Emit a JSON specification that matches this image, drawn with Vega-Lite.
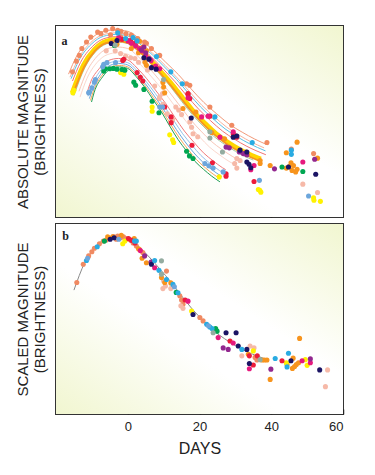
{
"$schema": "https://vega.github.io/schema/vega-lite/v6.json",
"padding": {"left": 14, "top": 25, "right": 5, "bottom": 5},
"spacing": 4,
"config": {
  "view": {"stroke": "#333333", "strokeWidth": 2},
  "font": "Liberation Sans",
  "axis": {"domain": false, "grid": false, "tickColor": "#222222", "tickWidth": 1.5, "tickSize": -5, "titleFont": "Liberation Sans", "titleFontWeight": "normal", "titleFontSize": 15, "titleColor": "#222222", "labelFont": "Liberation Sans", "labelFontSize": 13, "labelColor": "#222222", "titleLineHeight": 17}
},
"datasets": {
"curvesA": [
{"c":"c1","t":-16.5,"m":-18.74},{"c":"c1","t":-14.2,"m":-19.22},{"c":"c1","t":-10.6,"m":-19.64},{"c":"c1","t":-7.1,"m":-19.85},{"c":"c1","t":-3.5,"m":-19.90},{"c":"c1","t":0,"m":-19.86},{"c":"c1","t":3.5,"m":-19.65},{"c":"c1","t":7.1,"m":-19.37},{"c":"c1","t":10.6,"m":-19.05},{"c":"c1","t":14.2,"m":-18.72},{"c":"c1","t":17.7,"m":-18.35},{"c":"c1","t":21.2,"m":-18.00},{"c":"c1","t":24.8,"m":-17.70},{"c":"c1","t":28.3,"m":-17.43},{"c":"c1","t":31.9,"m":-17.22},{"c":"c1","t":35.4,"m":-17.04},{"c":"c1","t":38.9,"m":-16.89},
{"c":"c2","t":-16.1,"m":-18.66},{"c":"c2","t":-13.8,"m":-19.14},{"c":"c2","t":-10.4,"m":-19.56},{"c":"c2","t":-6.9,"m":-19.77},{"c":"c2","t":-3.5,"m":-19.82},{"c":"c2","t":0,"m":-19.78},{"c":"c2","t":3.5,"m":-19.57},{"c":"c2","t":6.9,"m":-19.29},{"c":"c2","t":10.4,"m":-18.97},{"c":"c2","t":13.8,"m":-18.64},{"c":"c2","t":17.3,"m":-18.27},{"c":"c2","t":20.7,"m":-17.92},{"c":"c2","t":24.2,"m":-17.62},{"c":"c2","t":27.6,"m":-17.35},{"c":"c2","t":31.1,"m":-17.14},{"c":"c2","t":34.5,"m":-16.96},{"c":"c2","t":38.0,"m":-16.81},
{"c":"c3","t":-15.8,"m":-18.62},{"c":"c3","t":-13.6,"m":-19.10},{"c":"c3","t":-10.2,"m":-19.52},{"c":"c3","t":-6.8,"m":-19.73},{"c":"c3","t":-3.4,"m":-19.78},{"c":"c3","t":0,"m":-19.74},{"c":"c3","t":3.4,"m":-19.53},{"c":"c3","t":6.8,"m":-19.25},{"c":"c3","t":10.2,"m":-18.93},{"c":"c3","t":13.6,"m":-18.60},{"c":"c3","t":17.0,"m":-18.23},{"c":"c3","t":20.3,"m":-17.88},{"c":"c3","t":23.7,"m":-17.58},{"c":"c3","t":27.1,"m":-17.31},{"c":"c3","t":30.5,"m":-17.10},{"c":"c3","t":33.9,"m":-16.92},{"c":"c3","t":38.4,"m":-16.73},
{"c":"c4","t":-15.4,"m":-18.56},{"c":"c4","t":-13.2,"m":-19.04},{"c":"c4","t":-9.9,"m":-19.46},{"c":"c4","t":-6.6,"m":-19.67},{"c":"c4","t":-3.3,"m":-19.72},{"c":"c4","t":0,"m":-19.68},{"c":"c4","t":3.3,"m":-19.47},{"c":"c4","t":6.6,"m":-19.19},{"c":"c4","t":9.9,"m":-18.87},{"c":"c4","t":13.2,"m":-18.54},{"c":"c4","t":16.5,"m":-18.17},{"c":"c4","t":19.8,"m":-17.82},{"c":"c4","t":23.1,"m":-17.52},{"c":"c4","t":26.4,"m":-17.25},{"c":"c4","t":29.7,"m":-17.04},{"c":"c4","t":33.0,"m":-16.86},{"c":"c4","t":38.5,"m":-16.63},
{"c":"c5","t":-15.5,"m":-18.25},{"c":"c5","t":-12.4,"m":-18.97},{"c":"c5","t":-9.3,"m":-19.39},{"c":"c5","t":-6.2,"m":-19.60},{"c":"c5","t":-3.1,"m":-19.65},{"c":"c5","t":0,"m":-19.61},{"c":"c5","t":3.1,"m":-19.40},{"c":"c5","t":6.2,"m":-19.12},{"c":"c5","t":9.3,"m":-18.80},{"c":"c5","t":12.4,"m":-18.47},{"c":"c5","t":15.5,"m":-18.10},{"c":"c5","t":18.5,"m":-17.75},{"c":"c5","t":21.6,"m":-17.45},{"c":"c5","t":24.7,"m":-17.18},{"c":"c5","t":27.8,"m":-16.97},{"c":"c5","t":30.9,"m":-16.79},{"c":"c5","t":34.0,"m":-16.64},{"c":"c5","t":37.1,"m":-16.52},
{"c":"c6","t":-15.3,"m":-18.20},{"c":"c6","t":-12.2,"m":-18.92},{"c":"c6","t":-9.2,"m":-19.34},{"c":"c6","t":-6.1,"m":-19.55},{"c":"c6","t":-3.1,"m":-19.60},{"c":"c6","t":0,"m":-19.56},{"c":"c6","t":3.1,"m":-19.35},{"c":"c6","t":6.1,"m":-19.07},{"c":"c6","t":9.2,"m":-18.75},{"c":"c6","t":12.2,"m":-18.42},{"c":"c6","t":15.3,"m":-18.05},{"c":"c6","t":18.4,"m":-17.70},{"c":"c6","t":21.4,"m":-17.40},{"c":"c6","t":24.5,"m":-17.13},{"c":"c6","t":27.5,"m":-16.92},{"c":"c6","t":30.6,"m":-16.74},{"c":"c6","t":33.7,"m":-16.59},{"c":"c6","t":36.7,"m":-16.47},
{"c":"c7","t":-15,"m":-18.18},{"c":"c7","t":-12,"m":-18.90},{"c":"c7","t":-9,"m":-19.32},{"c":"c7","t":-6,"m":-19.53},{"c":"c7","t":-3,"m":-19.58},{"c":"c7","t":0,"m":-19.54},{"c":"c7","t":3,"m":-19.33},{"c":"c7","t":6,"m":-19.05},{"c":"c7","t":9,"m":-18.73},{"c":"c7","t":12,"m":-18.40},{"c":"c7","t":15,"m":-18.03},{"c":"c7","t":18,"m":-17.68},{"c":"c7","t":21,"m":-17.38},{"c":"c7","t":24,"m":-17.11},{"c":"c7","t":27,"m":-16.90},{"c":"c7","t":30,"m":-16.72},{"c":"c7","t":33,"m":-16.57},{"c":"c7","t":35,"m":-16.49},
{"c":"c8","t":-13.6,"m":-18.29},{"c":"c8","t":-11.6,"m":-18.77},{"c":"c8","t":-8.7,"m":-19.19},{"c":"c8","t":-5.8,"m":-19.40},{"c":"c8","t":-2.9,"m":-19.45},{"c":"c8","t":0,"m":-19.41},{"c":"c8","t":2.9,"m":-19.20},{"c":"c8","t":5.8,"m":-18.92},{"c":"c8","t":8.7,"m":-18.60},{"c":"c8","t":11.6,"m":-18.27},{"c":"c8","t":14.6,"m":-17.90},{"c":"c8","t":17.5,"m":-17.55},{"c":"c8","t":20.4,"m":-17.25},{"c":"c8","t":23.3,"m":-16.98},{"c":"c8","t":26.2,"m":-16.77},{"c":"c8","t":29.1,"m":-16.59},{"c":"c8","t":32.0,"m":-16.44},
{"c":"c9","t":-13.3,"m":-18.14},{"c":"c9","t":-11.4,"m":-18.62},{"c":"c9","t":-8.6,"m":-19.04},{"c":"c9","t":-5.7,"m":-19.25},{"c":"c9","t":-2.9,"m":-19.30},{"c":"c9","t":0,"m":-19.26},{"c":"c9","t":2.9,"m":-19.05},{"c":"c9","t":5.7,"m":-18.77},{"c":"c9","t":8.6,"m":-18.45},{"c":"c9","t":11.4,"m":-18.12},{"c":"c9","t":14.3,"m":-17.75},{"c":"c9","t":17.1,"m":-17.40},{"c":"c9","t":20.0,"m":-17.10},{"c":"c9","t":22.8,"m":-16.83},{"c":"c9","t":25.7,"m":-16.62},{"c":"c9","t":28.5,"m":-16.44},{"c":"c9","t":29.5,"m":-16.39},
{"c":"c10","t":-11.4,"m":-18.23},{"c":"c10","t":-10.6,"m":-18.47},{"c":"c10","t":-7.9,"m":-18.89},{"c":"c10","t":-5.3,"m":-19.10},{"c":"c10","t":-2.6,"m":-19.15},{"c":"c10","t":0,"m":-19.11},{"c":"c10","t":2.6,"m":-18.90},{"c":"c10","t":5.3,"m":-18.62},{"c":"c10","t":7.9,"m":-18.30},{"c":"c10","t":10.6,"m":-17.97},{"c":"c10","t":13.2,"m":-17.60},{"c":"c10","t":15.8,"m":-17.25},{"c":"c10","t":18.5,"m":-16.95},{"c":"c10","t":21.1,"m":-16.68},{"c":"c10","t":23.8,"m":-16.47},{"c":"c10","t":26.4,"m":-16.29},{"c":"c10","t":27.3,"m":-16.24},
{"c":"c11","t":-11.1,"m":-18.16},{"c":"c11","t":-10.2,"m":-18.40},{"c":"c11","t":-7.7,"m":-18.82},{"c":"c11","t":-5.1,"m":-19.03},{"c":"c11","t":-2.6,"m":-19.08},{"c":"c11","t":0,"m":-19.04},{"c":"c11","t":2.6,"m":-18.83},{"c":"c11","t":5.1,"m":-18.55},{"c":"c11","t":7.7,"m":-18.23},{"c":"c11","t":10.2,"m":-17.90},{"c":"c11","t":12.8,"m":-17.53},{"c":"c11","t":15.3,"m":-17.18},{"c":"c11","t":17.9,"m":-16.88},{"c":"c11","t":20.4,"m":-16.61},{"c":"c11","t":23.0,"m":-16.40},{"c":"c11","t":25.5,"m":-16.22},{"c":"c11","t":26.4,"m":-16.17},
{"c":"c12","t":-10.7,"m":-18.10},{"c":"c12","t":-9.8,"m":-18.34},{"c":"c12","t":-7.4,"m":-18.76},{"c":"c12","t":-4.9,"m":-18.97},{"c":"c12","t":-2.5,"m":-19.02},{"c":"c12","t":0,"m":-18.98},{"c":"c12","t":2.5,"m":-18.77},{"c":"c12","t":4.9,"m":-18.49},{"c":"c12","t":7.4,"m":-18.17},{"c":"c12","t":9.8,"m":-17.84},{"c":"c12","t":12.3,"m":-17.47},{"c":"c12","t":14.8,"m":-17.12},{"c":"c12","t":17.2,"m":-16.82},{"c":"c12","t":19.7,"m":-16.55},{"c":"c12","t":22.1,"m":-16.34},{"c":"c12","t":24.6,"m":-16.16},{"c":"c12","t":26.2,"m":-16.06},
{"c":"c13","t":-10.4,"m":-18.05},{"c":"c13","t":-9.6,"m":-18.29},{"c":"c13","t":-7.2,"m":-18.71},{"c":"c13","t":-4.8,"m":-18.92},{"c":"c13","t":-2.4,"m":-18.97},{"c":"c13","t":0,"m":-18.93},{"c":"c13","t":2.4,"m":-18.72},{"c":"c13","t":4.8,"m":-18.44},{"c":"c13","t":7.2,"m":-18.12},{"c":"c13","t":9.6,"m":-17.79},{"c":"c13","t":12.0,"m":-17.42},{"c":"c13","t":14.4,"m":-17.07},{"c":"c13","t":16.8,"m":-16.77},{"c":"c13","t":19.2,"m":-16.50},{"c":"c13","t":21.6,"m":-16.29},{"c":"c13","t":24.0,"m":-16.11},{"c":"c13","t":25.6,"m":-16.01},
{"c":"c14","t":-10.1,"m":-18.01},{"c":"c14","t":-9.4,"m":-18.25},{"c":"c14","t":-7.0,"m":-18.67},{"c":"c14","t":-4.7,"m":-18.88},{"c":"c14","t":-2.3,"m":-18.93},{"c":"c14","t":0,"m":-18.89},{"c":"c14","t":2.3,"m":-18.68},{"c":"c14","t":4.7,"m":-18.40},{"c":"c14","t":7.0,"m":-18.08},{"c":"c14","t":9.4,"m":-17.75},{"c":"c14","t":11.7,"m":-17.38},{"c":"c14","t":14.0,"m":-17.03},{"c":"c14","t":16.4,"m":-16.73},{"c":"c14","t":18.7,"m":-16.46},{"c":"c14","t":21.1,"m":-16.25},{"c":"c14","t":23.4,"m":-16.07},{"c":"c14","t":25.7,"m":-15.92}
],
"ptsA": [
{"g":"S","t":-15.4,"m":-18.80},{"g":"S","t":-14.3,"m":-19.08},{"g":"S","t":-13.5,"m":-19.23},{"g":"S","t":-12.8,"m":-19.41},{"g":"S","t":-11.5,"m":-19.58},{"g":"S","t":-10.3,"m":-19.71},{"g":"S","t":-8.4,"m":-19.84},{"g":"S","t":-7.5,"m":-19.80},{"g":"S","t":-6.1,"m":-19.89},{"g":"S","t":-4.8,"m":-19.77},{"g":"S","t":-4.2,"m":-19.93},{"g":"S","t":-2.8,"m":-19.89},{"g":"S","t":-2.0,"m":-19.72},{"g":"S","t":-1.9,"m":-19.86},{"g":"S","t":-0.5,"m":-19.80},{"g":"S","t":1.0,"m":-19.76},{"g":"S","t":2.4,"m":-19.65},{"g":"S","t":2.8,"m":-19.67},{"g":"S","t":4.7,"m":-19.58},{"g":"S","t":5.2,"m":-19.55},{"g":"S","t":6.6,"m":-19.41},{"g":"S","t":8.9,"m":-19.23},{"g":"S","t":16.4,"m":-18.49},{"g":"S","t":17.3,"m":-18.45},{"g":"S","t":22.9,"m":-17.88},{"g":"S","t":29.0,"m":-17.40},{"g":"S","t":38.8,"m":-16.95},{"g":"S","t":45.6,"m":-16.78},{"g":"S","t":51.8,"m":-16.66},
{"g":"P","t":-6.0,"m":-19.35},{"g":"P","t":-3.5,"m":-19.35},{"g":"P","t":-2.0,"m":-19.28},{"g":"P","t":-0.6,"m":-19.21},{"g":"P","t":0.8,"m":-19.17},{"g":"P","t":2.0,"m":-19.15},{"g":"P","t":3.0,"m":-19.05},{"g":"P","t":5.5,"m":-18.85},{"g":"P","t":7.5,"m":-18.43},{"g":"P","t":8.8,"m":-18.10},{"g":"P","t":8.9,"m":-18.14},{"g":"P","t":9.7,"m":-18.23},{"g":"P","t":9.8,"m":-17.95},{"g":"P","t":11.0,"m":-17.70},{"g":"P","t":12.5,"m":-17.55},{"g":"P","t":13.4,"m":-17.88},{"g":"P","t":14.2,"m":-17.80},{"g":"P","t":15.0,"m":-17.68},{"g":"P","t":17.3,"m":-17.49},{"g":"P","t":17.8,"m":-17.35},{"g":"P","t":18.2,"m":-17.18},{"g":"P","t":19.5,"m":-17.10},{"g":"P","t":29.8,"m":-16.40},{"g":"P","t":30.4,"m":-16.53},{"g":"P","t":30.4,"m":-16.28},{"g":"P","t":31.3,"m":-16.48},{"g":"P","t":48.8,"m":-15.86},{"g":"P","t":52.9,"m":-15.64},
{"g":"O","t":-4.4,"m":-19.58},{"g":"O","t":-3.0,"m":-19.52},{"g":"O","t":1.0,"m":-19.41},{"g":"O","t":3.0,"m":-19.30},{"g":"O","t":3.3,"m":-19.60},{"g":"O","t":4.2,"m":-19.45},{"g":"O","t":4.8,"m":-19.05},{"g":"O","t":5.2,"m":-19.35},{"g":"O","t":5.2,"m":-18.97},{"g":"O","t":9.8,"m":-18.52},{"g":"O","t":10.0,"m":-18.40},{"g":"O","t":10.3,"m":-18.25},{"g":"O","t":15.4,"m":-17.84},{"g":"O","t":19.0,"m":-17.75},{"g":"O","t":23.4,"m":-17.21},{"g":"O","t":27.0,"m":-17.05},{"g":"O","t":33.0,"m":-16.70},{"g":"O","t":36.9,"m":-16.40},{"g":"O","t":36.9,"m":-16.48},{"g":"O","t":39.7,"m":-16.35},{"g":"O","t":44.2,"m":-16.68},{"g":"O","t":44.2,"m":-16.28},{"g":"O","t":45.0,"m":-16.32},{"g":"O","t":45.5,"m":-16.42},{"g":"O","t":45.8,"m":-16.22},{"g":"O","t":46.2,"m":-16.35},{"g":"O","t":46.8,"m":-16.18},{"g":"O","t":47.2,"m":-16.25},{"g":"O","t":47.2,"m":-16.96},{"g":"O","t":52.9,"m":-16.54},
{"g":"Y","t":-15.3,"m":-18.25},{"g":"Y","t":-15.0,"m":-18.32},{"g":"Y","t":-2.0,"m":-18.78},{"g":"Y","t":-1.1,"m":-18.74},{"g":"Y","t":6.8,"m":-17.77},{"g":"Y","t":6.8,"m":-17.88},{"g":"Y","t":11.7,"m":-17.15},{"g":"Y","t":12.5,"m":-17.02},{"g":"Y","t":12.8,"m":-16.95},{"g":"Y","t":25.5,"m":-16.05},{"g":"Y","t":36.4,"m":-15.72},{"g":"Y","t":36.8,"m":-15.70},{"g":"Y","t":37.1,"m":-15.65},{"g":"Y","t":51.8,"m":-15.50},{"g":"Y","t":51.9,"m":-15.44},{"g":"Y","t":53.7,"m":-15.41},
{"g":"G","t":-6.7,"m":-18.82},{"g":"G","t":-6.2,"m":-18.88},{"g":"G","t":-5.0,"m":-18.88},{"g":"G","t":-4.0,"m":-18.89},{"g":"G","t":-3.7,"m":-19.49},{"g":"G","t":-3.0,"m":-18.87},{"g":"G","t":-1.6,"m":-18.86},{"g":"G","t":-0.8,"m":-18.84},{"g":"G","t":1.7,"m":-18.53},{"g":"G","t":2.2,"m":-18.45},{"g":"G","t":4.5,"m":-18.34},{"g":"G","t":6.8,"m":-18.03},{"g":"G","t":8.7,"m":-17.73},{"g":"G","t":16.4,"m":-16.72},{"g":"G","t":17.2,"m":-16.60},{"g":"G","t":18.2,"m":-16.53},{"g":"G","t":43.0,"m":-16.31},{"g":"G","t":48.8,"m":-16.19},
{"g":"R","t":-1.6,"m":-19.65},{"g":"R","t":-1.4,"m":-19.10},{"g":"R","t":-1.1,"m":-19.13},{"g":"R","t":0.8,"m":-19.62},{"g":"R","t":2.0,"m":-19.55},{"g":"R","t":2.6,"m":-18.78},{"g":"R","t":3.5,"m":-18.66},{"g":"R","t":4.2,"m":-18.56},{"g":"R","t":10.3,"m":-17.88},{"g":"R","t":12.1,"m":-17.62},{"g":"R","t":12.1,"m":-17.47},{"g":"R","t":16.8,"m":-18.23},{"g":"R","t":16.8,"m":-18.21},{"g":"R","t":17.3,"m":-18.10},{"g":"R","t":17.9,"m":-16.88},{"g":"R","t":22.9,"m":-17.64},{"g":"R","t":23.6,"m":-16.42},{"g":"R","t":27.4,"m":-16.13},{"g":"R","t":27.4,"m":-16.07},{"g":"R","t":29.4,"m":-17.18},{"g":"R","t":30.4,"m":-17.09},{"g":"R","t":35.2,"m":-15.93},
{"g":"M","t":-2.5,"m":-19.70},{"g":"M","t":0.1,"m":-19.61},{"g":"M","t":1.0,"m":-19.55},{"g":"M","t":2.2,"m":-19.48},{"g":"M","t":3.3,"m":-19.41},{"g":"M","t":4.0,"m":-19.35},{"g":"M","t":5.0,"m":-19.22},{"g":"M","t":6.5,"m":-19.10},{"g":"M","t":7.8,"m":-18.95},{"g":"M","t":8.9,"m":-18.88},{"g":"M","t":16.8,"m":-18.12},{"g":"M","t":20.6,"m":-17.62},{"g":"M","t":22.4,"m":-17.64},{"g":"M","t":25.7,"m":-17.09},{"g":"M","t":29.4,"m":-17.23},{"g":"M","t":34.3,"m":-16.24},{"g":"M","t":35.2,"m":-16.35},{"g":"M","t":48.8,"m":-16.44},
{"g":"U","t":3.8,"m":-19.37},{"g":"U","t":4.5,"m":-19.45},{"g":"U","t":5.0,"m":-19.30},{"g":"U","t":6.0,"m":-19.15},{"g":"U","t":27.4,"m":-16.83},{"g":"U","t":28.3,"m":-16.81},{"g":"U","t":31.1,"m":-16.70},{"g":"U","t":32.2,"m":-16.66},{"g":"U","t":33.2,"m":-16.63},{"g":"U","t":40.9,"m":-16.26},{"g":"U","t":52.1,"m":-16.51},
{"g":"N","t":-4.6,"m":-19.54},{"g":"N","t":-3.0,"m":-19.62},{"g":"N","t":4.5,"m":-19.17},{"g":"N","t":5.9,"m":-19.13},{"g":"N","t":6.6,"m":-18.91},{"g":"N","t":7.9,"m":-18.87},{"g":"N","t":17.7,"m":-17.59},{"g":"N","t":29.4,"m":-17.09},{"g":"N","t":30.4,"m":-17.12},{"g":"N","t":31.3,"m":-16.75},{"g":"N","t":33.2,"m":-16.70},{"g":"N","t":33.2,"m":-16.44},{"g":"N","t":33.8,"m":-16.38},{"g":"N","t":34.3,"m":-16.29},{"g":"N","t":44.8,"m":-16.31},{"g":"N","t":52.4,"m":-16.12},
{"g":"C","t":-2.8,"m":-19.82},{"g":"C","t":-0.6,"m":-19.67},{"g":"C","t":1.5,"m":-19.70},{"g":"C","t":2.6,"m":-19.61},{"g":"C","t":8.0,"m":-19.20},{"g":"C","t":12.0,"m":-18.80},{"g":"C","t":15.2,"m":-18.49},{"g":"C","t":24.3,"m":-17.62},{"g":"C","t":34.7,"m":-16.95},{"g":"C","t":45.6,"m":-16.75},{"g":"C","t":45.6,"m":-16.64},
{"g":"L","t":-10.9,"m":-18.25},{"g":"L","t":-10.7,"m":-18.27},{"g":"L","t":-10.0,"m":-18.38},{"g":"L","t":-9.3,"m":-18.53},{"g":"L","t":-9.0,"m":-18.60},{"g":"L","t":-7.0,"m":-18.93},{"g":"L","t":-6.7,"m":-19.00},{"g":"L","t":-5.8,"m":-19.04},{"g":"L","t":-3.4,"m":-19.04},{"g":"L","t":8.9,"m":-17.88},{"g":"L","t":9.7,"m":-17.88},{"g":"L","t":21.5,"m":-16.40},{"g":"L","t":22.6,"m":-16.34},{"g":"L","t":23.8,"m":-16.28},{"g":"L","t":26.6,"m":-16.18},{"g":"L","t":36.7,"m":-15.96},{"g":"L","t":50.4,"m":-15.55},
{"g":"A","t":-3.5,"m":-19.50},{"g":"A","t":10.0,"m":-18.60},{"g":"A","t":22.9,"m":-17.23},{"g":"A","t":22.9,"m":-17.07},{"g":"A","t":26.4,"m":-16.70}
],
"curveB": [
{"t":-15,"m":-18.26},{"t":-12,"m":-18.98},{"t":-9,"m":-19.40},{"t":-6,"m":-19.61},{"t":-3,"m":-19.66},{"t":0,"m":-19.62},{"t":3,"m":-19.41},{"t":6,"m":-19.13},{"t":9,"m":-18.81},{"t":12,"m":-18.48},{"t":15,"m":-18.11},{"t":18,"m":-17.76},{"t":21,"m":-17.46},{"t":24,"m":-17.19},{"t":27,"m":-16.98},{"t":30,"m":-16.80},{"t":33,"m":-16.65},{"t":36,"m":-16.53},{"t":39,"m":-16.43}
],
"ptsB": [
{"g":"S","t":-14.2,"m":-18.46},{"g":"S","t":-12.4,"m":-18.94},{"g":"S","t":-10.9,"m":-19.16},{"g":"S","t":-10.0,"m":-19.27},{"g":"S","t":-9.3,"m":-19.36},{"g":"S","t":-7.9,"m":-19.48},{"g":"S","t":-6.8,"m":-19.55},{"g":"S","t":-6.0,"m":-19.58},{"g":"S","t":-5.0,"m":-19.62},{"g":"S","t":-4.0,"m":-19.67},{"g":"S","t":-3.5,"m":-19.65},{"g":"S","t":-3.2,"m":-19.60},{"g":"S","t":-2.8,"m":-19.68},{"g":"S","t":-2.0,"m":-19.64},{"g":"S","t":-1.2,"m":-19.66},{"g":"S","t":-0.4,"m":-19.62},{"g":"S","t":0.3,"m":-19.60},{"g":"S","t":0.8,"m":-19.58},{"g":"S","t":1.5,"m":-19.50},{"g":"S","t":2.4,"m":-19.42},{"g":"S","t":3.3,"m":-19.33},{"g":"S","t":4.2,"m":-19.25},{"g":"S","t":10.8,"m":-18.76},{"g":"S","t":14.5,"m":-18.11},{"g":"S","t":15.0,"m":-18.00},{"g":"S","t":15.4,"m":-17.89},{"g":"S","t":20.1,"m":-17.54},{"g":"S","t":21.0,"m":-17.45},{"g":"S","t":35.5,"m":-16.49},{"g":"S","t":36.0,"m":-16.42},
{"g":"P","t":9.8,"m":-18.30},{"g":"P","t":10.0,"m":-18.50},{"g":"P","t":10.5,"m":-18.37},{"g":"P","t":12.0,"m":-18.30},{"g":"P","t":14.8,"m":-17.85},{"g":"P","t":15.4,"m":-17.78},{"g":"P","t":31.8,"m":-16.53},{"g":"P","t":34.1,"m":-16.79},{"g":"P","t":35.2,"m":-16.74},{"g":"P","t":55.1,"m":-15.72},{"g":"P","t":55.7,"m":-16.16},
{"g":"O","t":-5.6,"m":-19.66},{"g":"O","t":-4.2,"m":-19.66},{"g":"O","t":-1.8,"m":-19.70},{"g":"O","t":1.8,"m":-19.62},{"g":"O","t":3.0,"m":-19.35},{"g":"O","t":4.0,"m":-19.10},{"g":"O","t":5.2,"m":-18.98},{"g":"O","t":9.4,"m":-18.59},{"g":"O","t":10.3,"m":-18.46},{"g":"O","t":12.0,"m":-18.45},{"g":"O","t":33.6,"m":-16.57},{"g":"O","t":37.4,"m":-16.42},{"g":"O","t":38.1,"m":-16.42},{"g":"O","t":38.8,"m":-16.42},{"g":"O","t":39.7,"m":-15.91},{"g":"O","t":44.4,"m":-16.30},{"g":"O","t":45.9,"m":-16.20},{"g":"O","t":46.1,"m":-16.47},{"g":"O","t":46.5,"m":-16.25},{"g":"O","t":47.0,"m":-16.30},{"g":"O","t":47.6,"m":-16.35},{"g":"O","t":47.9,"m":-16.99},
{"g":"Y","t":-1.4,"m":-19.48},{"g":"Y","t":-0.8,"m":-19.55},{"g":"Y","t":17.8,"m":-17.71},{"g":"Y","t":35.0,"m":-16.66},{"g":"Y","t":44.2,"m":-16.35},{"g":"Y","t":49.5,"m":-16.43},{"g":"Y","t":50.0,"m":-16.28},
{"g":"G","t":-6.5,"m":-19.55},{"g":"G","t":13.5,"m":-18.20},{"g":"G","t":24.5,"m":-17.25},{"g":"G","t":24.9,"m":-17.18},
{"g":"R","t":0.2,"m":-19.62},{"g":"R","t":1.0,"m":-19.57},{"g":"R","t":2.0,"m":-19.50},{"g":"R","t":16.0,"m":-18.00},{"g":"R","t":28.5,"m":-16.92},{"g":"R","t":33.9,"m":-16.53},{"g":"R","t":35.0,"m":-16.29},{"g":"R","t":36.1,"m":-16.53},{"g":"R","t":43.0,"m":-16.40},
{"g":"M","t":3.5,"m":-19.30},{"g":"M","t":7.5,"m":-18.85},{"g":"M","t":16.8,"m":-17.97},{"g":"M","t":25.2,"m":-17.01},{"g":"M","t":29.4,"m":-16.87},{"g":"M","t":33.9,"m":-16.19},{"g":"M","t":48.6,"m":-16.40},{"g":"M","t":50.9,"m":-16.35},
{"g":"U","t":4.7,"m":-19.16},{"g":"U","t":6.5,"m":-19.00},{"g":"U","t":26.6,"m":-16.74},{"g":"U","t":28.0,"m":-16.70},{"g":"U","t":39.9,"m":-16.18},{"g":"U","t":50.9,"m":-16.45},
{"g":"N","t":-4.9,"m":-19.60},{"g":"N","t":-3.8,"m":-19.64},{"g":"N","t":6.6,"m":-18.94},{"g":"N","t":18.2,"m":-17.62},{"g":"N","t":27.4,"m":-17.14},{"g":"N","t":30.2,"m":-17.14},{"g":"N","t":30.8,"m":-16.79},{"g":"N","t":33.2,"m":-16.70},{"g":"N","t":33.9,"m":-16.33},{"g":"N","t":45.5,"m":-16.40},{"g":"N","t":53.5,"m":-16.16},
{"g":"C","t":-11.5,"m":-19.04},{"g":"C","t":-8.5,"m":-19.40},{"g":"C","t":1.9,"m":-19.55},{"g":"C","t":2.4,"m":-19.55},{"g":"C","t":7.5,"m":-19.04},{"g":"C","t":8.7,"m":-18.78},{"g":"C","t":10.8,"m":-18.54},{"g":"C","t":12.6,"m":-18.41},{"g":"C","t":14.0,"m":-18.19},{"g":"C","t":22.0,"m":-17.36},{"g":"C","t":22.9,"m":-17.29},{"g":"C","t":23.5,"m":-17.25},{"g":"C","t":31.8,"m":-16.70},{"g":"C","t":41.1,"m":-16.46},{"g":"C","t":44.4,"m":-16.24},{"g":"C","t":44.8,"m":-16.60},
{"g":"A","t":9.4,"m":-19.03},{"g":"A","t":9.4,"m":-18.68},{"g":"A","t":23.8,"m":-17.14},{"g":"A","t":36.9,"m":-16.43},
{"g":"L","t":-11.2,"m":-19.10},{"g":"L","t":-2.5,"m":-19.60},{"g":"L","t":13.0,"m":-18.35},{"g":"L","t":22.5,"m":-17.32}
]
},
"vconcat": [
{
"width": 287, "height": 191,
"layer": [
{"data": {"values": [{}]},
 "mark": {"type": "rect", "fill": {"gradient": "linear", "x1": 0, "y1": 1, "x2": 1, "y2": 0, "stops": [{"offset": 0, "color": "#f1f6d0"}, {"offset": 0.4, "color": "#ffffff"}, {"offset": 0.6, "color": "#ffffff"}, {"offset": 1, "color": "#f1f6d0"}]}},
 "encoding": {
  "x": {"datum": -20, "type": "quantitative", "scale": {"domain": [-20, 60], "nice": false, "zero": false}, "axis": {"values": [0, 20, 40], "labels": false, "title": null}},
  "x2": {"datum": 60},
  "y": {"datum": -20, "type": "quantitative", "scale": {"domain": [-20, -15], "reverse": true, "nice": false, "zero": false}, "axis": {"values": [-19, -18, -17, -16], "labels": false, "title": ["ABSOLUTE MAGNITUDE", "(BRIGHTNESS)"], "titlePadding": 8}},
  "y2": {"datum": -15}
 }},
{"data": {"name": "curvesA"},
 "transform": [{"filter": "datum.c != 'c5' && datum.c != 'c6'"}],
 "mark": {"type": "line", "strokeWidth": 1, "interpolate": "monotone"},
 "encoding": {
  "x": {"field": "t", "type": "quantitative"},
  "y": {"field": "m", "type": "quantitative"},
  "stroke": {"field": "c", "type": "nominal", "legend": null, "scale": {"domain": ["c1","c2","c3","c4","c7","c8","c9","c10","c11","c12","c13","c14"], "range": ["#f29a7a","#f6b39e","#5cc0e6","#f27474","#a3c9a0","#f8c6b8","#fbd7cd","#f27b7b","#93c0ea","#6aa6dc","#f7a85a","#1f9e55"]}}
 }},
{"data": {"name": "curvesA"},
 "transform": [{"filter": "datum.c == 'c5'"}],
 "mark": {"type": "line", "strokeWidth": 4.5, "color": "#ffd500", "interpolate": "monotone"},
 "encoding": {"x": {"field": "t", "type": "quantitative"}, "y": {"field": "m", "type": "quantitative"}}},
{"data": {"name": "curvesA"},
 "transform": [{"filter": "datum.c == 'c6'"}],
 "mark": {"type": "line", "strokeWidth": 1.8, "color": "#f7941d", "interpolate": "monotone"},
 "encoding": {"x": {"field": "t", "type": "quantitative"}, "y": {"field": "m", "type": "quantitative"}}},
{"data": {"name": "ptsA"},
 "mark": {"type": "circle", "size": 26, "opacity": 1},
 "encoding": {
  "x": {"field": "t", "type": "quantitative"},
  "y": {"field": "m", "type": "quantitative"},
  "color": {"field": "g", "type": "nominal", "legend": null, "scale": {"domain": ["S","P","O","Y","G","R","M","U","N","C","L","A"], "range": ["#f08a62","#f6b9a8","#f7941d","#fff200","#00a651","#ed1c3a","#e6197d","#92278f","#1b1464","#29abe2","#6ca6dc","#94aca0"]}}
 }},
{"data": {"values": [{}]},
 "mark": {"type": "text", "text": "a", "font": "Liberation Serif", "fontWeight": "bold", "fontSize": 12, "color": "#222222"},
 "encoding": {"x": {"datum": -17.6, "type": "quantitative"}, "y": {"datum": -19.62, "type": "quantitative"}}}
]
},
{
"width": 287, "height": 190,
"layer": [
{"data": {"values": [{}]},
 "mark": {"type": "rect", "fill": {"gradient": "linear", "x1": 0, "y1": 1, "x2": 1, "y2": 0, "stops": [{"offset": 0, "color": "#f1f6d0"}, {"offset": 0.4, "color": "#ffffff"}, {"offset": 0.6, "color": "#ffffff"}, {"offset": 1, "color": "#f1f6d0"}]}},
 "encoding": {
  "x": {"datum": -20, "type": "quantitative", "scale": {"domain": [-20, 60], "nice": false, "zero": false}, "axis": {"values": [0, 20, 40, 60], "labels": true, "format": "d", "title": "DAYS", "titleFontSize": 16, "labelPadding": 11, "titlePadding": 7}},
  "x2": {"datum": 60},
  "y": {"datum": -20, "type": "quantitative", "scale": {"domain": [-20, -15], "reverse": true, "nice": false, "zero": false}, "axis": {"values": [-19, -18, -17, -16], "labels": false, "title": ["SCALED MAGNITUDE", "(BRIGHTNESS)"], "titlePadding": 8}},
  "y2": {"datum": -15}
 }},
{"data": {"name": "curveB"},
 "mark": {"type": "line", "strokeWidth": 1, "color": "#8a8a8a", "interpolate": "monotone"},
 "encoding": {"x": {"field": "t", "type": "quantitative"}, "y": {"field": "m", "type": "quantitative"}}},
{"data": {"name": "ptsB"},
 "mark": {"type": "circle", "size": 26, "opacity": 1},
 "encoding": {
  "x": {"field": "t", "type": "quantitative"},
  "y": {"field": "m", "type": "quantitative"},
  "color": {"field": "g", "type": "nominal", "legend": null, "scale": {"domain": ["S","P","O","Y","G","R","M","U","N","C","L","A"], "range": ["#f08a62","#f6b9a8","#f7941d","#fff200","#00a651","#ed1c3a","#e6197d","#92278f","#1b1464","#29abe2","#6ca6dc","#94aca0"]}}
 }},
{"data": {"values": [{}]},
 "mark": {"type": "text", "text": "b", "font": "Liberation Serif", "fontWeight": "bold", "fontSize": 12, "color": "#222222"},
 "encoding": {"x": {"datum": -17.3, "type": "quantitative"}, "y": {"datum": -19.68, "type": "quantitative"}}}
]
}
]
}
